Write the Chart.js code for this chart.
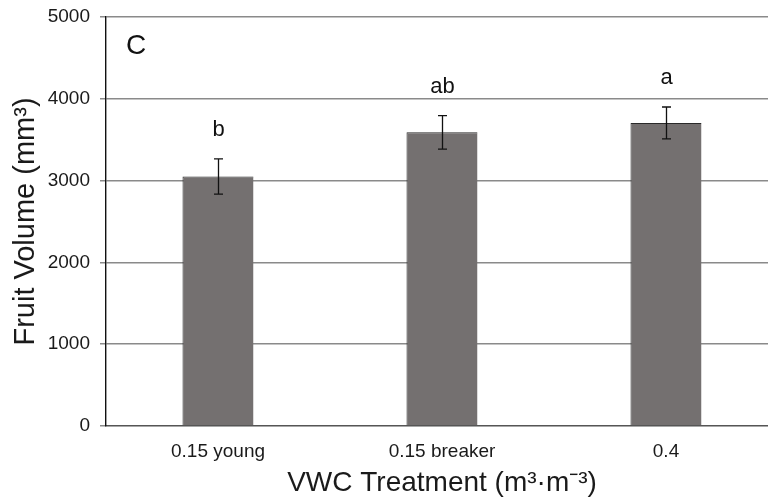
<!DOCTYPE html>
<html lang="en">
    <head>
        <meta charset="UTF-8" />
        <title>Fruit Volume</title>
        <style>
            body, html {
                margin: 0;
                padding: 0;
                overflow: hidden;
                background: #fff;
            }
            #wrap {
                width: 778px;
                height: 500px;
            }
        </style>
    </head>
    <body>
        <div id="wrap">
            <canvas id="bar-chart" width="778" height="500"></canvas>
        </div>
    </body>
    <script src="https://cdn.jsdelivr.net/npm/chart.js@4.4.0/dist/chart.umd.min.js"></script>
    <script>
        // values
        const treatments = ["0.15 young", "0.15 breaker", "0.4"];
        const volume = [3050, 3590, 3705];
        const volumeErr = [215, 205, 195];
        const letters = ["b", "ab", "a"];
        const yTicks = [0, 1000, 2000, 3000, 4000, 5000];

        const FONT = "'Liberation Sans', Arial, sans-serif";

        // error bars, significance letters and the panel letter
        const extras = {
            id: "extras",
            afterDatasetsDraw(chart) {
                const ctx = chart.ctx;
                const x = chart.scales.x;
                const y = chart.scales.y;
                ctx.save();
                ctx.strokeStyle = "#111";
                ctx.lineWidth = 1.3;
                ctx.fillStyle = "#111";
                ctx.textAlign = "center";
                ctx.textBaseline = "middle";
                ctx.font = "22px " + FONT;
                volume.forEach((v, i) => {
                    const px = Math.round(x.getPixelForValue(i)) + 0.5;
                    const hi = y.getPixelForValue(v + volumeErr[i]);
                    const lo = y.getPixelForValue(v - volumeErr[i]);
                    ctx.beginPath();
                    ctx.moveTo(px, hi);
                    ctx.lineTo(px, lo);
                    ctx.moveTo(px - 4.5, hi);
                    ctx.lineTo(px + 4.5, hi);
                    ctx.moveTo(px - 4.5, lo);
                    ctx.lineTo(px + 4.5, lo);
                    ctx.stroke();
                    ctx.fillText(letters[i], px, hi - 29);
                });
                ctx.font = "28px " + FONT;
                ctx.textAlign = "left";
                ctx.fillText("C", chart.chartArea.left + 20, chart.chartArea.top + 29);
                ctx.restore();
            },
        };

        new Chart(document.getElementById("bar-chart"), {
            type: "bar",
            data: {
                labels: treatments,
                datasets: [
                    {
                        data: volume,
                        backgroundColor: "#747070",
                        borderColor: "#2a2a2a",
                        borderWidth: { left: 1, top: 1, right: 0, bottom: 0 },
                        barPercentage: 0.317,
                        categoryPercentage: 1,
                    },
                ],
            },
            options: {
                responsive: false,
                animation: false,
                devicePixelRatio: 1,
                layout: { padding: { top: 17, left: 0, right: 0, bottom: 0 } },
                plugins: {
                    legend: { display: false },
                    tooltip: { enabled: false },
                },
                scales: {
                    x: {
                        afterFit: (s) => { s.height = 74; },
                        grid: { display: false, drawTicks: false },
                        border: { color: "#555", width: 1.3 },
                        ticks: {
                            color: "#1a1a1a",
                            font: { family: FONT, size: 19 },
                            padding: 14,
                        },
                        title: {
                            display: true,
                            text: "VWC Treatment (m³·m⁻³)",
                            color: "#1a1a1a",
                            font: { family: FONT, size: 28 },
                            padding: { top: 0, bottom: 0 },
                        },
                    },
                    y: {
                        min: 0,
                        max: 5000,
                        afterFit: (s) => {
                            s.width = 106;
                            s.paddingTop = 0;
                            s.paddingBottom = 0;
                        },
                        afterBuildTicks: (s) => { s.ticks = yTicks.map((v) => ({ value: v })); },
                        grid: {
                            color: "#8a8a8a",
                            lineWidth: 1.5,
                            tickLength: 6,
                        },
                        border: { color: "#111", width: 1.4 },
                        ticks: {
                            color: "#1a1a1a",
                            font: { family: FONT, size: 19 },
                            padding: 10,
                            callback: (v) => String(v),
                        },
                        title: {
                            display: true,
                            text: "Fruit Volume (mm³)",
                            color: "#1a1a1a",
                            font: { family: FONT, size: 29 },
                            padding: { top: 9, bottom: 0 },
                        },
                    },
                },
            },
            plugins: [extras],
        });
    </script>
</html>
